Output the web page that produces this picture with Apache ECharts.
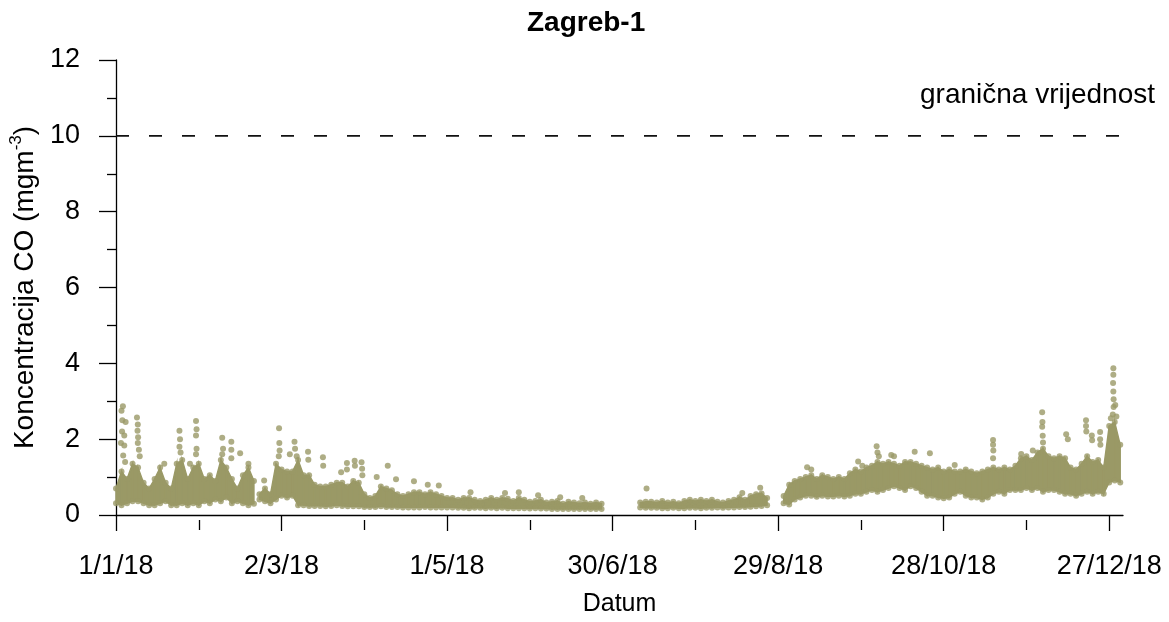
<!DOCTYPE html>
<html><head><meta charset="utf-8">
<script src="https://cdn.jsdelivr.net/npm/echarts@6/dist/echarts.min.js"></script>
<style>html,body{margin:0;padding:0;background:#fff}#c{width:1169px;height:622px}</style>
</head><body><div id="c"></div>
<script>
const FONT = "'Liberation Sans', Arial, Helvetica, sans-serif";
const chartTitle = 'Zagreb-1';
const xName = 'Datum';
const yNameMain = 'Koncentracija CO (mgm';
const yNameSup = '-3';
const limitLabel = 'granična vrijednost';
const tickDays = [0, 60, 120, 180, 240, 300, 360];
const tickLabels = ['1/1/18', '2/3/18', '1/5/18', '30/6/18', '29/8/18', '28/10/18', '27/12/18'];
const minorTickDays = [30, 90, 150, 210, 270, 330];
const limitValue = 10;
const limitDays = [0, 365];
const COLOR = '#9a9966';

// sampled days (day of year, 0 = 1 Jan 2018)
const sampleDays = [
  0,2,4,6,8,10,12,14,16,18,20,22,24,26,28,30,32,34,36,38,40,42,44,46,48,50,51,52,54,56,58,
  60,62,64,66,68,70,72,74,76,78,80,82,84,86,88,90,92,94,96,98,100,102,104,106,108,110,112,114,116,118,
  120,122,124,126,128,130,132,134,136,138,140,142,144,146,148,150,152,154,156,158,160,162,164,166,168,170,172,174,176,178,
  180,182,184,186,188,190,192,194,196,198,200,202,204,206,208,210,212,214,216,218,220,222,224,226,228,230,232,234,236,238,
  240,242,244,246,248,250,252,254,256,258,260,262,264,266,268,270,272,274,276,278,280,282,284,286,288,290,292,294,296,298,
  300,302,304,306,308,310,312,314,316,318,320,322,324,326,328,330,332,334,336,338,340,342,344,346,348,350,352,354,356,358,
  360,362,364
];
// lower edge of the hourly cloud (mg/m3), null = no data
const lowVals = [
  0.31,0.26,0.31,0.36,0.36,0.31,0.26,0.26,0.31,0.36,0.26,0.26,0.31,0.26,0.31,0.26,0.36,0.31,0.41,0.36,0.46,0.31,0.36,0.31,0.26,0.3,null,0.41,0.36,0.31,0.41,
  0.51,0.46,0.51,0.26,0.26,0.24,0.24,0.24,0.23,0.24,0.26,0.24,0.23,0.23,0.23,0.21,0.21,0.21,0.23,0.21,0.21,0.21,0.2,0.2,0.2,0.2,0.21,0.2,0.2,0.2,
  0.2,0.2,0.19,0.19,0.18,0.19,0.19,0.18,0.19,0.18,0.19,0.18,0.18,0.18,0.18,0.17,0.18,0.17,0.17,0.16,0.16,0.16,0.16,0.16,0.16,0.16,0.16,0.16,0.16,null,
  null,null,null,null,null,0.2,0.19,0.19,0.19,0.18,0.18,0.19,0.18,0.18,0.19,0.19,0.18,0.19,0.19,0.2,0.19,0.2,0.2,0.21,0.21,0.22,0.23,0.24,0.26,null,
  null,0.31,0.28,0.41,0.46,0.51,0.51,0.48,0.51,0.49,0.49,0.51,0.49,0.51,0.56,0.56,0.61,0.66,0.61,0.66,0.71,0.76,0.71,0.66,0.76,0.71,0.61,0.51,0.51,0.46,
  0.44,0.46,0.56,0.61,0.51,0.46,0.46,0.41,0.46,0.56,0.61,0.56,0.66,0.66,0.66,0.71,0.66,0.71,0.61,0.66,0.66,0.61,0.56,0.56,0.51,0.56,0.61,0.56,0.61,0.56,
  0.86,0.91,0.86
];
// upper edge of the dense part of the cloud (mg/m3), null = no data
const highVals = [
  0.7,1.15,0.95,1.35,1.25,0.85,0.7,0.95,1.25,0.85,0.7,1.35,1.45,0.95,1.25,1.35,0.95,1.05,0.9,1.45,1.25,0.95,0.7,1.05,1.25,0.9,null,0.55,0.7,0.55,1.35,
  1.2,1.15,1.15,1.45,1.05,1.05,0.8,0.75,0.75,0.8,0.85,0.85,0.75,0.9,0.85,0.55,0.45,0.5,0.75,0.7,0.65,0.55,0.5,0.55,0.6,0.6,0.55,0.6,0.55,0.5,
  0.45,0.45,0.4,0.45,0.45,0.4,0.37,0.4,0.45,0.4,0.45,0.43,0.37,0.45,0.4,0.35,0.37,0.4,0.33,0.35,0.37,0.3,0.35,0.33,0.31,0.33,0.3,0.33,0.3,null,
  null,null,null,null,null,0.33,0.35,0.35,0.33,0.37,0.33,0.35,0.31,0.37,0.4,0.37,0.4,0.37,0.4,0.35,0.33,0.37,0.4,0.47,0.4,0.5,0.55,0.57,0.45,null,
  null,0.5,0.8,0.9,0.95,1.0,1.05,0.95,1.05,1.0,0.95,1.0,0.95,1.1,1.2,1.15,1.25,1.3,1.4,1.35,1.4,1.35,1.3,1.4,1.4,1.35,1.3,1.25,1.2,1.25,
  1.15,1.2,1.15,1.15,1.2,1.15,1.1,1.15,1.2,1.25,1.2,1.25,1.2,1.3,1.5,1.55,1.45,1.65,1.75,1.55,1.5,1.55,1.5,1.25,1.2,1.35,1.55,1.4,1.45,1.25,
  2.35,2.45,1.85
];
// isolated high hourly values (day of year, mg/m3)
const peakDays = [
  2.5,2.0,2.3,3.5,1.8,3.0,2.6,3.3,2.2,3.0,
  7.6,7.9,7.8,8.0,7.9,8.3,8.6,17.5,23.0,23.2,23.0,23.4,26.8,
  29.0,29.2,29.0,29.2,29.0,38.5,38.8,38.5,41.8,41.8,41.8,45.0,48.0,53.7,
  59.1,59.2,59.3,59.0,63.0,64.7,64.9,65.5,69.6,69.7,75.0,75.1,81.6,83.7,83.7,
  86.5,86.6,89.0,89.2,89.3,94.5,98.5,101.5,108.0,113.0,117.0,
  128.5,141.0,146.0,153.0,161.0,169.0,192.3,227.0,233.5,
  250.5,252.0,269.0,270.5,275.7,276.0,276.5,281.0,282.0,289.5,295.0,304.0,
  317.9,317.9,318.0,317.9,328.1,332.3,335.7,335.8,335.7,335.9,336.0,
  344.4,345.0,351.6,351.6,351.7,353.7,353.8,356.7,356.7,356.8,
  361.5,361.5,361.4,361.5,361.6,361.6,361.3,362.2,362.6,360.6
];
const peakVals = [
  2.87,2.75,2.5,2.45,1.9,1.83,1.57,1.4,2.2,2.1,
  2.57,2.39,2.22,2.05,1.9,1.72,1.55,1.35,2.22,2.0,1.8,1.65,1.35,
  2.48,2.26,2.1,1.75,1.6,2.04,1.75,1.6,1.93,1.72,1.5,1.63,1.35,0.91,
  2.29,1.9,1.7,1.55,1.6,1.93,1.75,1.55,1.67,1.46,1.52,1.3,1.13,1.37,1.2,
  1.43,1.3,1.39,1.22,1.05,1.0,1.3,0.94,0.89,0.8,0.78,
  0.6,0.58,0.6,0.52,0.47,0.45,0.7,0.58,0.72,
  1.26,1.2,1.41,1.3,1.81,1.65,1.55,1.58,1.55,1.67,1.63,1.32,
  1.98,1.85,1.7,1.5,1.61,1.7,2.71,2.45,2.33,2.09,1.91,
  2.13,2.0,2.5,2.35,2.2,2.1,1.97,2.19,2.0,1.85,
  3.87,3.7,3.48,3.26,3.05,2.85,2.65,2.9,2.6,2.55
];

const lowData = sampleDays.map((d, i) => [d, lowVals[i]]).filter(p => p[1] != null);
const highData = sampleDays.map((d, i) => [d, highVals[i]]).filter(p => p[1] != null);
// band segments between consecutive samples: [d0, lo0, hi0, d1, lo1, hi1]
const bandSegments = [];
for (let i = 0; i < sampleDays.length - 1; i++) {
  if (lowVals[i] == null || lowVals[i + 1] == null || highVals[i] == null || highVals[i + 1] == null) continue;
  bandSegments.push([sampleDays[i], lowVals[i], highVals[i], sampleDays[i + 1], lowVals[i + 1], highVals[i + 1]]);
}
const peakData = peakDays.map((d, i) => [d, peakVals[i]]);
const limitData = limitDays.map(d => [d, limitValue]);

const chart = echarts.init(document.getElementById('c'), null, {renderer: 'canvas'});
const axisLine = {show: true, lineStyle: {color: '#000', width: 1.3}};
chart.setOption({
  animation: false,
  backgroundColor: '#fff',
  title: {
    text: chartTitle, left: 527, top: 9, padding: 0,
    textStyle: {fontSize: 28, fontWeight: 'bold', fontFamily: FONT, color: '#000'}
  },
  grid: {left: 116, right: 46, top: 60, bottom: 102, containLabel: false},
  xAxis: [{
    type: 'value', min: 0, max: 365, position: 'bottom',
    axisLine: axisLine,
    axisTick: {show: true, length: 16, customValues: tickDays, lineStyle: {color: '#000', width: 1.3}},
    axisLabel: {
      show: true, customValues: tickDays, margin: 38,
      formatter: v => { const k = tickDays.indexOf(v); return k >= 0 ? tickLabels[k] : ''; },
      fontSize: 27, fontFamily: FONT, color: '#000'
    },
    splitLine: {show: false},
    name: xName, nameLocation: 'middle', nameGap: 77,
    nameTextStyle: {fontSize: 25, fontFamily: FONT, color: '#000'}
  }, {
    type: 'value', min: 0, max: 365, position: 'top', offset: -460,
    axisLine: {show: false},
    axisTick: {show: true, inside: true, length: 10, customValues: minorTickDays, lineStyle: {color: '#000', width: 1.3}},
    axisLabel: {show: false},
    splitLine: {show: false}
  }],
  yAxis: {
    type: 'value', min: 0, max: 12, interval: 2,
    axisLine: axisLine,
    axisTick: {show: true, length: 17, lineStyle: {color: '#000', width: 1.3}},
    minorTick: {show: true, splitNumber: 2, length: 9, lineStyle: {color: '#000', width: 1.3}},
    axisLabel: {margin: 36, fontSize: 27, fontFamily: FONT, color: '#000'},
    splitLine: {show: false},
    minorSplitLine: {show: false},
    name: '{b|' + yNameMain + '}{s|' + yNameSup + '}{b|)}',
    nameLocation: 'middle', nameGap: 64,
    nameTextStyle: {
      rich: {
        b: {fontSize: 28, fontFamily: FONT, color: '#000', lineHeight: 34},
        s: {fontSize: 17, fontFamily: FONT, color: '#000', lineHeight: 17, verticalAlign: 'top'}
      }
    }
  },
  graphic: [{
    type: 'text', right: 14, top: 81,
    style: {text: limitLabel, font: '28px ' + FONT, fill: '#000'}
  }],
  series: [
    {
      type: 'custom', xAxisIndex: 0, yAxisIndex: 0, data: bandSegments, silent: true, z: 2,
      encode: {x: [0, 3], y: [1, 2, 4, 5]},
      renderItem: function (params, api) {
        const p1 = api.coord([api.value(0), api.value(1)]);
        const p2 = api.coord([api.value(3), api.value(4)]);
        const p3 = api.coord([api.value(3), api.value(5)]);
        const p4 = api.coord([api.value(0), api.value(2)]);
        return {type: 'polygon', shape: {points: [p1, p2, p3, p4]},
                style: {fill: COLOR, stroke: COLOR, lineWidth: 1.4}};
      }
    },
    {type: 'scatter', data: lowData, symbolSize: 6, itemStyle: {color: COLOR}, z: 3},
    {type: 'scatter', data: highData, symbolSize: 6, itemStyle: {color: COLOR}, z: 3},
    {type: 'scatter', data: peakData, symbolSize: 6, itemStyle: {color: COLOR}, z: 3},
    {type: 'line', data: limitData, symbol: 'none',
     lineStyle: {color: '#111', width: 1.6, type: [13, 20]}, z: 4}
  ]
});
</script>
</body></html>
